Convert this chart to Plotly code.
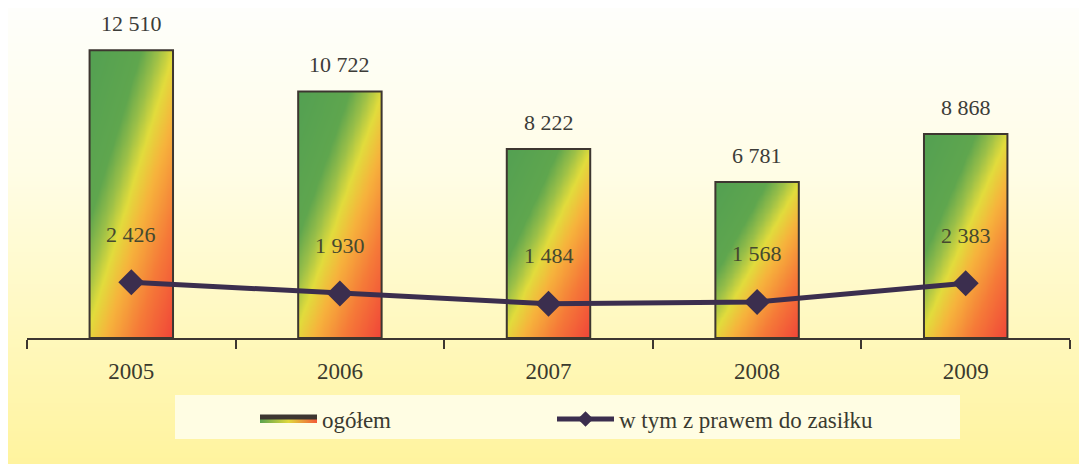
import numpy as np
import plotly.graph_objects as go

years = ["2005", "2006", "2007", "2008", "2009"]
ogolem = [12510, 10722, 8222, 6781, 8868]
zasilek = [2426, 1930, 1484, 1568, 2383]

W, H = 1087, 464
FONT = "Liberation Serif"
BAR_W = 0.40
AXC = "#3d3630"


def fmt(v):
    return f"{v:,}".replace(",", " ")


fig = go.Figure()

# background gradient (white top -> yellow bottom), on a full-paper subplot
by = np.linspace(0, 1, 60)
bz = np.outer(1 - by, np.ones(2))
fig.add_trace(go.Heatmap(
    x=[0, 1], y=by, z=bz, zmin=0, zmax=1, zsmooth="best", showscale=False,
    colorscale=[[0, "#fefefb"], [0.35, "#fffde6"], [0.7, "#fff8bd"], [1, "#fff39c"]],
    hoverinfo="skip", xaxis="x", yaxis="y"))

# bar gradient (green top-left -> yellow -> red bottom-right) as heatmaps
bar_scale = [[0, "#53a052"], [0.30, "#5fa64e"], [0.40, "#9cc048"], [0.49, "#e2dc3c"],
             [0.60, "#f6b43c"], [0.78, "#f57a38"], [1, "#f04438"]]
nx, ny = 24, 60
for i, v in enumerate(ogolem):
    x0 = i - BAR_W / 2
    xs = x0 + (np.arange(nx) + 0.5) * BAR_W / nx
    ys = (np.arange(ny) + 0.5) * v / ny
    xf = (xs - x0) / BAR_W
    yf = ys / v
    z = 0.815 * xf[None, :] - 0.86 * yf[:, None]
    fig.add_trace(go.Heatmap(
        x=xs, y=ys, z=z, zmin=-0.86, zmax=0.815, zsmooth="best",
        colorscale=bar_scale, showscale=False, hoverinfo="skip",
        xaxis="x2", yaxis="y2"))

fig.add_trace(go.Bar(
    x=list(range(len(years))), y=ogolem, width=BAR_W, name="ogółem",
    marker=dict(color="rgba(0,0,0,0)", line=dict(color=AXC, width=2)),
    showlegend=False, xaxis="x2", yaxis="y2"))

# legend entry for bars
fig.add_trace(go.Scatter(
    x=[None], y=[None], name="ogółem", mode="lines", fill="toself",
    fillgradient=dict(type="horizontal",
                      colorscale=[[0, "#5aa34f"], [0.5, "#e0d83c"], [1, "#f35a38"]]),
    line=dict(color=AXC, width=2), xaxis="x2", yaxis="y2", legend="legend"))

fig.add_trace(go.Scatter(
    x=list(range(len(years))), y=zasilek, name="w tym z prawem do zasiłku",
    mode="lines+markers",
    line=dict(color="#3b2e4e", width=5),
    marker=dict(symbol="diamond", size=20, color="#3b2e4e"),
    xaxis="x2", yaxis="y2", legend="legend2"))

annotations = []
for i, v in enumerate(ogolem):
    annotations.append(dict(
        x=i, y=v, xref="x2", yref="y2", text=fmt(v), showarrow=False,
        yanchor="bottom", yshift=12,
        font=dict(family=FONT, size=22, color="#3c3c38")))
for i, v in enumerate(zasilek):
    annotations.append(dict(
        x=i, y=v, xref="x2", yref="y2", text=fmt(v), showarrow=False,
        yanchor="middle", yshift=48,
        font=dict(family=FONT, size=22, color="#45482f")))

bounds = [i - 0.5 for i in range(len(years) + 1)]
xdom = [19 / W, 1062 / W]
leg_common = dict(orientation="h", yanchor="middle", xanchor="left",
                  bgcolor="rgba(0,0,0,0)",
                  font=dict(family=FONT, size=23, color="#3a3a30"),
                  itemwidth=57, itemsizing="constant")

fig.update_layout(
    width=W, height=H,
    margin=dict(l=0, r=0, t=0, b=0),
    paper_bgcolor="#fffbe0",
    plot_bgcolor="rgba(0,0,0,0)",
    font=dict(family=FONT, color="#3a3a30"),
    showlegend=True,
    legend=dict(x=247 / W, y=1 - 411 / H, **leg_common),
    legend2=dict(x=544 / W, y=1 - 411 / H, **leg_common),
    xaxis=dict(domain=[0, 1], range=[0, 1], visible=False, fixedrange=True),
    yaxis=dict(domain=[0, 1], range=[0, 1], visible=False, fixedrange=True),
    xaxis2=dict(domain=xdom, anchor="y2", range=[-0.5, len(years) - 0.5],
                tickmode="array", tickvals=list(range(len(years))), ticktext=years,
                ticks="outside", ticklen=11, tickcolor="rgba(0,0,0,0)",
                minor=dict(tickmode="array", tickvals=bounds, ticks="outside",
                           ticklen=9, tickwidth=2, tickcolor=AXC),
                showline=True, linecolor=AXC, linewidth=2,
                showgrid=False, zeroline=False,
                tickfont=dict(family=FONT, size=23, color="#3a3a2e")),
    xaxis3=dict(overlaying="x2", anchor="y2", side="bottom",
                range=[-0.5, len(years) - 0.5],
                tickmode="array", tickvals=bounds, ticks="inside",
                ticklen=7, tickwidth=2, tickcolor=AXC,
                showticklabels=False, showline=False, showgrid=False, zeroline=False),
    yaxis2=dict(domain=[134 / H, 1 - 8 / H], anchor="x2", range=[0, 14000],
                visible=False, showgrid=False, zeroline=False),
    shapes=[dict(type="rect", xref="paper", yref="paper",
                 x0=167 / W, x1=952 / W, y0=1 - 431 / H, y1=1 - 387 / H,
                 fillcolor="#fffde3", line=dict(width=0), layer="above")],
    annotations=annotations,
)

fig.write_html("out.html")
